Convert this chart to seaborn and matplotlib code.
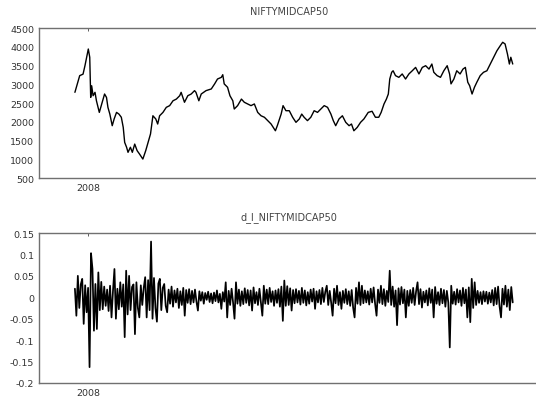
import numpy as np
import pandas as pd
import matplotlib
matplotlib.use("Agg")
import matplotlib.pyplot as plt
import seaborn as sns

# price series (decimal year, index level)
price_time = [
    2007.73, 2007.76, 2007.83, 2007.90, 2007.94, 2008.01, 2008.04, 2008.06, 2008.08, 2008.11,
    2008.15, 2008.18, 2008.24, 2008.29, 2008.35, 2008.39, 2008.42, 2008.46, 2008.51, 2008.55,
    2008.60, 2008.65, 2008.70, 2008.74, 2008.77, 2008.81, 2008.84, 2008.89, 2008.93, 2008.98,
    2009.03, 2009.08, 2009.15, 2009.21, 2009.26, 2009.31, 2009.36, 2009.42, 2009.46, 2009.50,
    2009.57, 2009.64, 2009.71, 2009.78, 2009.85, 2009.92, 2009.95, 2010.02, 2010.09, 2010.16,
    2010.23, 2010.26, 2010.32, 2010.37, 2010.47, 2010.58, 2010.65, 2010.71, 2010.79, 2010.82,
    2010.85, 2010.92, 2010.97, 2011.03, 2011.06, 2011.13, 2011.21, 2011.27, 2011.34, 2011.41,
    2011.48, 2011.55, 2011.62, 2011.69, 2011.76, 2011.83, 2011.92, 2011.96, 2012.04, 2012.08,
    2012.14, 2012.21, 2012.28, 2012.35, 2012.42, 2012.47, 2012.52, 2012.59, 2012.66, 2012.73,
    2012.80, 2012.87, 2012.94, 2013.01, 2013.08, 2013.13, 2013.18, 2013.25, 2013.32, 2013.39,
    2013.46, 2013.51, 2013.56, 2013.63, 2013.70, 2013.77, 2013.86, 2013.94, 2014.01, 2014.08,
    2014.13, 2014.19, 2014.24, 2014.28, 2014.31, 2014.35, 2014.38, 2014.43, 2014.50, 2014.57,
    2014.64, 2014.71, 2014.78, 2014.85, 2014.92, 2014.99, 2015.06, 2015.13, 2015.19, 2015.23,
    2015.30, 2015.37, 2015.44, 2015.51, 2015.56, 2015.59, 2015.65, 2015.71, 2015.78, 2015.84,
    2015.89, 2015.94, 2015.98, 2016.03, 2016.08, 2016.13, 2016.20, 2016.27, 2016.34, 2016.41,
    2016.48, 2016.55, 2016.62, 2016.67, 2016.72, 2016.77, 2016.81, 2016.84, 2016.88,
]
price_level = [
    2785, 2920, 3230, 3270, 3495, 3940, 3720, 2650, 2960, 2695,
    2785, 2560, 2250, 2475, 2740, 2650, 2385, 2205, 1895, 2075,
    2250, 2205, 2120, 1850, 1450, 1320, 1185, 1320, 1185, 1405,
    1230, 1140, 1005, 1230, 1450, 1675, 2160, 2075, 1940, 2160,
    2250, 2385, 2430, 2560, 2605, 2695, 2785, 2520, 2695, 2740,
    2830, 2785, 2560, 2740, 2830, 2875, 3010, 3140, 3185, 3255,
    3010, 2920, 2695, 2560, 2340, 2430, 2605, 2520, 2475, 2430,
    2475, 2250, 2160, 2120, 2030, 1940, 1760, 1895, 2205, 2430,
    2295, 2295, 2120, 1985, 2075, 2205, 2120, 2030, 2120, 2295,
    2250, 2340, 2430, 2385, 2205, 2030, 1895, 2075, 2160, 1985,
    1895, 1940, 1760, 1850, 1985, 2075, 2250, 2280, 2120, 2120,
    2250, 2475, 2605, 2740, 3140, 3320, 3360, 3230, 3185, 3275,
    3140, 3275, 3360, 3450, 3275, 3450, 3495, 3405, 3540, 3320,
    3230, 3185, 3360, 3495, 3275, 3010, 3140, 3360, 3275, 3405,
    3450, 3055, 2960, 2740, 2920, 3055, 3230, 3320, 3360, 3540,
    3720, 3895, 4030, 4120, 4075, 3805, 3540, 3720, 3540,
]

# log returns, evenly spaced over the same span
ret_start = 2007.73
ret_end = 2016.88
log_ret = [
    0.020, -0.043, 0.050, -0.025, 0.030, 0.043, -0.062, 0.028, -0.035, 0.022,
    -0.163, 0.103, 0.066, -0.078, 0.031, -0.074, 0.058, -0.030, 0.036, -0.028,
    0.025, -0.020, 0.018, -0.032, 0.027, -0.047, 0.015, 0.066, -0.050, 0.020,
    -0.028, 0.035, -0.022, 0.030, -0.093, 0.062, -0.040, 0.050, -0.030, 0.024,
    0.030, -0.086, 0.035, -0.025, -0.047, 0.028, -0.018, 0.022, 0.047, -0.047,
    0.040, -0.030, 0.130, -0.050, 0.045, -0.025, -0.057, 0.032, 0.043, -0.030,
    0.022, 0.031, -0.020, -0.035, 0.018, -0.015, 0.025, -0.022, 0.016, -0.012,
    0.020, -0.025, 0.014, -0.018, 0.022, -0.043, 0.017, -0.013, 0.019, -0.016,
    0.015, -0.012, 0.018, -0.010, -0.031, 0.014, -0.008, 0.012, -0.015, 0.010,
    -0.006, 0.013, -0.011, 0.009, -0.014, 0.011, -0.009, 0.016, -0.012, 0.008,
    -0.027, 0.012, -0.010, 0.035, -0.047, 0.015, -0.018, 0.020, -0.012, -0.050,
    0.035, -0.015, 0.018, -0.020, 0.014, -0.016, 0.021, -0.013, 0.017, -0.019,
    0.016, -0.031, 0.023, -0.014, 0.012, -0.018, 0.020, -0.012, -0.043, 0.027,
    -0.015, 0.018, -0.016, 0.022, -0.011, 0.014, -0.020, 0.016, -0.013, 0.019,
    -0.022, 0.025, -0.055, 0.039, -0.020, 0.026, -0.018, 0.021, -0.031, 0.017,
    -0.014, 0.019, -0.012, 0.015, -0.017, 0.022, -0.013, 0.016, -0.019, 0.012,
    -0.015, 0.018, -0.010, 0.020, -0.027, 0.014, -0.012, 0.017, -0.016, 0.022,
    -0.011, 0.013, 0.027, -0.018, 0.015, -0.012, -0.043, 0.020, -0.014, 0.027,
    -0.018, 0.012, -0.027, 0.015, -0.013, 0.019, -0.016, 0.014, -0.020, 0.017,
    -0.024, -0.047, 0.022, -0.015, 0.035, -0.018, 0.027, -0.014, 0.016, -0.012,
    0.014, -0.017, 0.020, -0.012, 0.023, -0.015, -0.043, 0.018, -0.013, 0.027,
    -0.016, 0.019, -0.020, 0.015, -0.011, 0.062, -0.018, 0.025, -0.022, 0.016,
    -0.065, 0.021, -0.017, 0.024, -0.014, 0.018, -0.047, 0.015, -0.020, 0.017,
    -0.013, 0.022, -0.018, 0.014, 0.035, -0.016, 0.019, -0.024, 0.013, -0.012,
    0.016, -0.019, 0.021, -0.013, 0.018, -0.047, 0.024, -0.015, 0.012, -0.018,
    0.020, -0.014, 0.017, -0.022, 0.015, -0.012, -0.117, 0.027, -0.015, 0.013,
    -0.017, 0.019, -0.012, 0.016, -0.020, 0.022, -0.014, 0.018, -0.047, 0.023,
    -0.058, 0.043, -0.025, 0.035, -0.018, 0.015, -0.013, 0.012, -0.016, 0.014,
    -0.010, 0.013, -0.015, 0.011, -0.012, 0.017, -0.019, 0.022, -0.016, 0.025,
    -0.021, -0.047, 0.020, -0.017, 0.027, -0.022, 0.018, -0.030, 0.024, -0.012,
]

top_title = "NIFTYMIDCAP50"
bottom_title = "d_l_NIFTYMIDCAP50"
top_yticks = [500, 1000, 1500, 2000, 2500, 3000, 3500, 4000, 4500]
bottom_yticks = [-0.2, -0.15, -0.1, -0.05, 0, 0.05, 0.1, 0.15]
bottom_ylabels = ["-0.2", "-0.15", "-0.1", "-0.05", "0", "0.05", "0.1", "0.15"]
xticks = [2008]

sns.set_style("white")
plt.rcParams['font.family'] = ['DejaVu Sans']

df_price = pd.DataFrame({'t': price_time, 'level': price_level})
df_ret = pd.DataFrame({'t': np.linspace(ret_start, ret_end, len(log_ret)), 'r': log_ret})

fig = plt.figure(figsize=(5.36, 4.02), dpi=100)
# right edge runs just past the image border, like the cropped original
ax1 = fig.add_axes([0.0728, 0.5547, 0.932, 0.3731])
ax2 = fig.add_axes([0.0728, 0.0448, 0.932, 0.3731])

sns.lineplot(data=df_price, x='t', y='level', ax=ax1, color='black', lw=1.0)
sns.lineplot(data=df_ret, x='t', y='r', ax=ax2, color='black', lw=1.25)

for ax, title in [(ax1, top_title), (ax2, bottom_title)]:
    ax.set_xlim(2006.98, 2017.42)
    ax.set_xticks(xticks)
    ax.set_xticklabels([str(x) for x in xticks])
    ax.set_xlabel('')
    ax.set_ylabel('')
    ax.set_title(title, fontsize=7, color='#444444', pad=10)
    ax.tick_params(direction='in', length=2.5, width=0.6, colors='#444444',
                   labelsize=6.8, top=True, right=True, labelcolor='#333333')
    for s in ax.spines.values():
        s.set_color('#707070')
        s.set_linewidth(1.0)

ax1.set_ylim(500, 4500)
ax1.set_yticks(top_yticks)
ax2.set_ylim(-0.2, 0.15)
ax2.set_yticks(bottom_yticks)
ax2.set_yticklabels(bottom_ylabels)

fig.savefig('out.png', dpi=100)
